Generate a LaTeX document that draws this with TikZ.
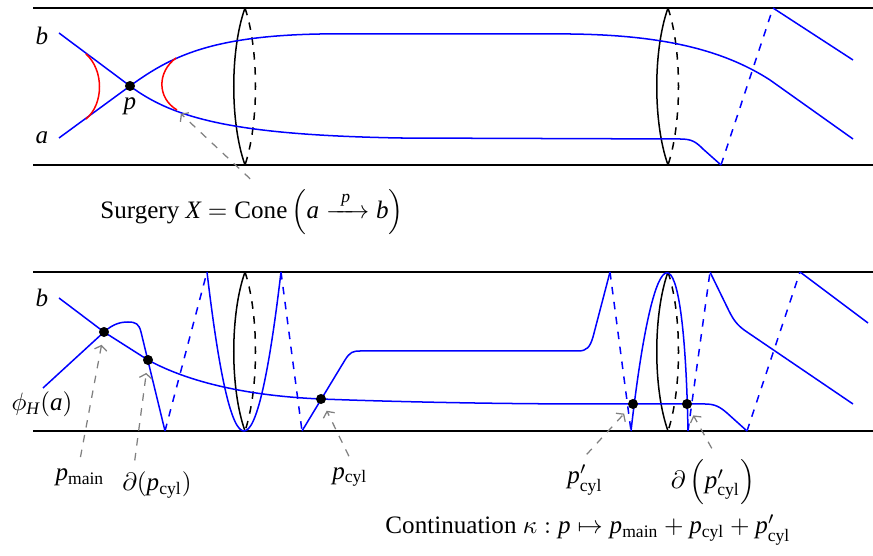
\documentclass[tikz,border=0pt]{standalone}
\usepackage{amsmath}
\usepackage{fontspec}
\setmainfont{Liberation Serif}
\usetikzlibrary{arrows.meta}

% Times-like italic letters in math
\DeclareSymbolFont{tlet}{TU}{\rmdefault}{m}{it}
\Umathcode`a="7 \symtlet `a
\Umathcode`b="7 \symtlet `b
\Umathcode`p="7 \symtlet `p
\Umathcode`X="7 \symtlet `X
\Umathcode`H="7 \symtlet `H

\tikzset{
  wall/.style={black, line width=0.5pt},
  sheet/.style={blue, line width=0.6pt},
  hidden/.style={sheet, dashed},
  merid/.style={black, line width=0.6pt},
  handle/.style={red, line width=0.6pt},
  crit/.style={circle, fill=black, inner sep=0pt, minimum size=4pt},
  pointer/.style={gray, dashed, line width=0.5pt, -{Straight Barb[length=1.8pt,width=5pt]}, shorten >=3pt, shorten <=1pt},
}

\begin{document}
\begin{tikzpicture}[x=0.014cm, y=-0.014cm]
    \useasboundingbox (0,0) rectangle (873,556);

    % Top strip: before surgery
    \draw[wall] (33,8) -- (873,8);
    \draw[wall] (33,165) -- (873,165);

    % meridian circles
    \draw[merid] (245,8) .. controls (230,50) and (230,123) .. (245,165);
    \draw[merid, dashed] (245,8) .. controls (259,50) and (259,123) .. (245,165);
    \draw[merid] (668,8) .. controls (653,50) and (653,123) .. (668,165);
    \draw[merid, dashed] (668,8) .. controls (682,50) and (682,123) .. (668,165);

    % the two sheets meeting at p
    \draw[sheet] (59,138) -- (130,86) .. controls (170,57) and (210,36) .. (320,34)
        -- (570,34) .. controls (660,35) and (722,49) .. (770,80) -- (853,139);
    \draw[sheet] (59,33) -- (130,86) .. controls (175,120) and (240,135) .. (400,138)
        -- (680,139) .. controls (692,139) and (696,142) .. (703,149) -- (721,165);
    \draw[hidden] (721,165) -- (773,8);
    \draw[sheet] (773,8) -- (853,60);

    % surgery arcs
    \draw[handle] (86,54) .. controls (104,70) and (104,104) .. (86,119);
    \draw[handle] (176,58) .. controls (157,72) and (157,98) .. (177,110);

    \node[crit] (p) at (130,86) {};
    \node at (130,106) {$p$};
    \node (lb) at (42,36) {$b$};
    \node (la) at (42,138) {$a$};

    \coordinate (neck) at (179,112);
    \node (surg) at (252,212) {Surgery $X = \mathrm{Cone}\left(a \xrightarrow{\;\,p\;\,} b\right)$};
    \draw[pointer, shorten >=1pt] (surg.north) -- (neck);

    % Bottom strip: after continuation
    \draw[wall] (33,272) -- (873,272);
    \draw[wall] (33,431) -- (873,431);

    \draw[merid] (245,272) .. controls (230,314) and (230,389) .. (245,431);
    \draw[merid, dashed] (245,272) .. controls (259,314) and (259,389) .. (245,431);
    \draw[merid] (668,272) .. controls (653,314) and (653,389) .. (668,431);
    \draw[merid, dashed] (668,272) .. controls (682,314) and (682,389) .. (668,431);

    % image of b
    \draw[sheet] (59,298) -- (104,332) -- (148,360) .. controls (190,383) and (250,396) .. (321,399)
        .. controls (400,402) and (500,404) .. (600,404) -- (705,404)
        .. controls (715,404) and (720,407) .. (727,413) -- (747,431);
    \draw[hidden] (747,431) -- (800,272);
    \draw[sheet] (800,272) -- (868,323);

    % image of a, winding round the cylinder
    \draw[sheet] (43,388) -- (104,332) .. controls (114,323) and (122,322) .. (128,322)
        .. controls (136,322) and (139,324) .. (141,332) -- (165,431);
    \draw[hidden] (165,431) -- (207,272);
    \draw[sheet] (207,272) .. controls (232,484) and (256,484) .. (281,272);
    \draw[hidden] (281,272) -- (302,431);
    \draw[sheet] (302,431) -- (345,360) .. controls (350,352) and (353,351) .. (360,351)
        -- (578,351) .. controls (587,351) and (590,347) .. (593,337) -- (610,272);
    \draw[hidden] (610,272) -- (631,431);
    \draw[sheet] (631,431) .. controls (655,220) and (684,220) .. (688,431);
    \draw[hidden] (688,431) -- (710,272);
    \draw[sheet] (710,272) -- (729,311) .. controls (734,321) and (738,326) .. (747,332) -- (853,404);

    % intersection points
    \node[crit] (pmain) at (104,332) {};
    \node[crit] (dpcyl) at (148,360) {};
    \node[crit] (pcyl) at (321,399) {};
    \node[crit] (ppcyl) at (633,404) {};
    \node[crit] (dppcyl) at (687,404) {};

    \node (lb2) at (42,298) {$b$};
    \node (lphi) at (42,404) {$\phi_H(a)$};

    \node (lmain) at (80,477) {$p_{\text{main}}$};
    \node (ldpcyl) at (157,485) {$\partial(p_{\text{cyl}})$};
    \node (lpcyl) at (350,477) {$p_{\text{cyl}}$};
    \node (lppcyl) at (585,480) {$p'_{\text{cyl}}$};
    \node (ldppcyl) at (713,482) {$\partial\left(p'_{\text{cyl}}\right)$};

    \draw[pointer] (lmain.north) -- (pmain);
    \draw[pointer] ([xshift=-9pt]ldpcyl.north) -- (dpcyl);
    \draw[pointer] (lpcyl.north) -- (pcyl);
    \draw[pointer] (lppcyl.north) -- (ppcyl);
    \draw[pointer] (ldppcyl.north) -- (dppcyl);

    \node (cont) at (588,530) {Continuation $\kappa : p \mapsto p_{\text{main}} + p_{\text{cyl}} + p'_{\text{cyl}}$};
\end{tikzpicture}
\end{document}
